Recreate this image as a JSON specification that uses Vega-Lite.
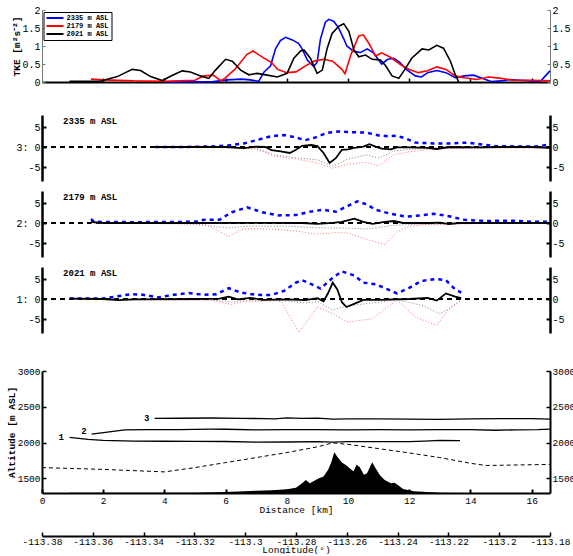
{
  "$schema": "https://vega.github.io/schema/vega-lite/v6.json",
  "background": "white",
  "padding": {"left": 5, "top": 5, "right": 0, "bottom": 0},
  "bounds": "flush",
  "spacing": 10,
  "config": {
    "view": {"stroke": null},
    "font": "Liberation Mono",
    "text": {"font": "Liberation Mono"},
    "axis": {"labelFont": "Liberation Mono", "titleFont": "Liberation Mono", "labelFontSize": 10, "labelColor": "black", "titleColor": "black", "domainColor": "black", "tickColor": "black", "grid": false, "labelFlush": false, "labelOverlap": false, "labelBound": false}
  },
  "datasets": {
    "tke": [
      {"h":"2335 m ASL","km":4.0,"v":0},{"h":"2335 m ASL","km":4.6,"v":0},{"h":"2335 m ASL","km":5.6,"v":0.01},{"h":"2335 m ASL","km":6.05,"v":0.06},{"h":"2335 m ASL","km":6.5,"v":0.08},{"h":"2335 m ASL","km":6.8,"v":0.06},{"h":"2335 m ASL","km":7.08,"v":0.02},{"h":"2335 m ASL","km":7.25,"v":0.27},{"h":"2335 m ASL","km":7.47,"v":0.45},{"h":"2335 m ASL","km":7.63,"v":0.92},{"h":"2335 m ASL","km":7.79,"v":1.15},{"h":"2335 m ASL","km":7.96,"v":1.24},{"h":"2335 m ASL","km":8.18,"v":1.17},{"h":"2335 m ASL","km":8.39,"v":1.07},{"h":"2335 m ASL","km":8.5,"v":0.92},{"h":"2335 m ASL","km":8.67,"v":0.61},{"h":"2335 m ASL","km":8.88,"v":0.43},{"h":"2335 m ASL","km":8.99,"v":0.55},{"h":"2335 m ASL","km":9.1,"v":1.2},{"h":"2335 m ASL","km":9.26,"v":1.66},{"h":"2335 m ASL","km":9.37,"v":1.74},{"h":"2335 m ASL","km":9.54,"v":1.68},{"h":"2335 m ASL","km":9.7,"v":1.49},{"h":"2335 m ASL","km":9.86,"v":1.2},{"h":"2335 m ASL","km":9.96,"v":1.0},{"h":"2335 m ASL","km":10.19,"v":0.85},{"h":"2335 m ASL","km":10.41,"v":0.82},{"h":"2335 m ASL","km":10.63,"v":0.92},{"h":"2335 m ASL","km":10.84,"v":0.8},{"h":"2335 m ASL","km":11.1,"v":0.5},{"h":"2335 m ASL","km":11.3,"v":0.63},{"h":"2335 m ASL","km":11.5,"v":0.66},{"h":"2335 m ASL","km":11.7,"v":0.54},{"h":"2335 m ASL","km":11.9,"v":0.35},{"h":"2335 m ASL","km":12.2,"v":0.17},{"h":"2335 m ASL","km":12.4,"v":0.14},{"h":"2335 m ASL","km":12.6,"v":0.26},{"h":"2335 m ASL","km":12.9,"v":0.32},{"h":"2335 m ASL","km":13.2,"v":0.26},{"h":"2335 m ASL","km":13.5,"v":0.12},{"h":"2335 m ASL","km":13.8,"v":0.17},{"h":"2335 m ASL","km":14.1,"v":0.19},{"h":"2335 m ASL","km":14.4,"v":0.1},{"h":"2335 m ASL","km":14.7,"v":0.01},{"h":"2335 m ASL","km":15.0,"v":0.03},{"h":"2335 m ASL","km":15.3,"v":0.07},{"h":"2335 m ASL","km":15.6,"v":0.05},{"h":"2335 m ASL","km":16.0,"v":0.03},{"h":"2335 m ASL","km":16.3,"v":0.03},{"h":"2335 m ASL","km":16.45,"v":0.17},{"h":"2335 m ASL","km":16.6,"v":0.31},
      {"h":"2179 m ASL","km":1.6,"v":0.08},{"h":"2179 m ASL","km":2.0,"v":0.06},{"h":"2179 m ASL","km":3.0,"v":0.03},{"h":"2179 m ASL","km":4.0,"v":0.02},{"h":"2179 m ASL","km":5.0,"v":0.05},{"h":"2179 m ASL","km":5.3,"v":0.17},{"h":"2179 m ASL","km":5.6,"v":0.19},{"h":"2179 m ASL","km":5.85,"v":0.03},{"h":"2179 m ASL","km":6.0,"v":0.12},{"h":"2179 m ASL","km":6.3,"v":0.35},{"h":"2179 m ASL","km":6.7,"v":0.77},{"h":"2179 m ASL","km":6.9,"v":0.86},{"h":"2179 m ASL","km":7.2,"v":0.69},{"h":"2179 m ASL","km":7.5,"v":0.54},{"h":"2179 m ASL","km":7.7,"v":0.35},{"h":"2179 m ASL","km":8.0,"v":0.26},{"h":"2179 m ASL","km":8.3,"v":0.28},{"h":"2179 m ASL","km":8.6,"v":0.44},{"h":"2179 m ASL","km":8.9,"v":0.58},{"h":"2179 m ASL","km":9.2,"v":0.63},{"h":"2179 m ASL","km":9.5,"v":0.58},{"h":"2179 m ASL","km":9.8,"v":0.35},{"h":"2179 m ASL","km":9.9,"v":0.23},{"h":"2179 m ASL","km":10.1,"v":0.77},{"h":"2179 m ASL","km":10.35,"v":1.28},{"h":"2179 m ASL","km":10.5,"v":1.31},{"h":"2179 m ASL","km":10.7,"v":1.05},{"h":"2179 m ASL","km":10.9,"v":0.72},{"h":"2179 m ASL","km":11.1,"v":0.81},{"h":"2179 m ASL","km":11.4,"v":0.68},{"h":"2179 m ASL","km":11.7,"v":0.49},{"h":"2179 m ASL","km":12.0,"v":0.35},{"h":"2179 m ASL","km":12.3,"v":0.26},{"h":"2179 m ASL","km":12.6,"v":0.31},{"h":"2179 m ASL","km":12.9,"v":0.42},{"h":"2179 m ASL","km":13.2,"v":0.35},{"h":"2179 m ASL","km":13.5,"v":0.17},{"h":"2179 m ASL","km":13.8,"v":0.12},{"h":"2179 m ASL","km":14.2,"v":0.07},{"h":"2179 m ASL","km":14.6,"v":0.14},{"h":"2179 m ASL","km":15.0,"v":0.1},{"h":"2179 m ASL","km":15.4,"v":0.05},{"h":"2179 m ASL","km":16.0,"v":0.05},{"h":"2179 m ASL","km":16.6,"v":0.03},
      {"h":"2021 m ASL","km":0.9,"v":0.02},{"h":"2021 m ASL","km":1.9,"v":0.02},{"h":"2021 m ASL","km":2.46,"v":0.15},{"h":"2021 m ASL","km":2.95,"v":0.35},{"h":"2021 m ASL","km":3.22,"v":0.32},{"h":"2021 m ASL","km":3.55,"v":0.15},{"h":"2021 m ASL","km":3.93,"v":0.04},{"h":"2021 m ASL","km":4.25,"v":0.18},{"h":"2021 m ASL","km":4.58,"v":0.31},{"h":"2021 m ASL","km":4.85,"v":0.28},{"h":"2021 m ASL","km":5.18,"v":0.17},{"h":"2021 m ASL","km":5.45,"v":0.1},{"h":"2021 m ASL","km":5.67,"v":0.33},{"h":"2021 m ASL","km":6.0,"v":0.63},{"h":"2021 m ASL","km":6.22,"v":0.58},{"h":"2021 m ASL","km":6.49,"v":0.33},{"h":"2021 m ASL","km":6.76,"v":0.2},{"h":"2021 m ASL","km":7.03,"v":0.24},{"h":"2021 m ASL","km":7.36,"v":0.19},{"h":"2021 m ASL","km":7.69,"v":0.14},{"h":"2021 m ASL","km":8.01,"v":0.24},{"h":"2021 m ASL","km":8.23,"v":0.66},{"h":"2021 m ASL","km":8.45,"v":0.86},{"h":"2021 m ASL","km":8.56,"v":0.89},{"h":"2021 m ASL","km":8.77,"v":0.66},{"h":"2021 m ASL","km":8.99,"v":0.24},{"h":"2021 m ASL","km":9.16,"v":0.33},{"h":"2021 m ASL","km":9.32,"v":0.94},{"h":"2021 m ASL","km":9.48,"v":1.35},{"h":"2021 m ASL","km":9.7,"v":1.55},{"h":"2021 m ASL","km":9.86,"v":1.62},{"h":"2021 m ASL","km":10.03,"v":1.4},{"h":"2021 m ASL","km":10.19,"v":0.9},{"h":"2021 m ASL","km":10.35,"v":0.7},{"h":"2021 m ASL","km":10.57,"v":0.75},{"h":"2021 m ASL","km":10.79,"v":0.63},{"h":"2021 m ASL","km":11.06,"v":0.61},{"h":"2021 m ASL","km":11.23,"v":0.45},{"h":"2021 m ASL","km":11.44,"v":0.17},{"h":"2021 m ASL","km":11.66,"v":0.1},{"h":"2021 m ASL","km":11.88,"v":0.38},{"h":"2021 m ASL","km":12.08,"v":0.66},{"h":"2021 m ASL","km":12.42,"v":0.92},{"h":"2021 m ASL","km":12.64,"v":0.89},{"h":"2021 m ASL","km":12.9,"v":1.02},{"h":"2021 m ASL","km":13.12,"v":0.94},{"h":"2021 m ASL","km":13.35,"v":0.57},{"h":"2021 m ASL","km":13.51,"v":0.19},{"h":"2021 m ASL","km":13.62,"v":0.0}
    ],
    "dev": [
      {"p":3,"s":"A","km":3.7,"v":0},{"p":3,"s":"A","km":4.5,"v":0},{"p":3,"s":"A","km":5.0,"v":0.05},{"p":3,"s":"A","km":5.6,"v":0.15},{"p":3,"s":"A","km":6.1,"v":0.4},{"p":3,"s":"A","km":6.6,"v":0.9},{"p":3,"s":"A","km":7.0,"v":1.7},{"p":3,"s":"A","km":7.5,"v":2.7},{"p":3,"s":"A","km":7.9,"v":3.0},{"p":3,"s":"A","km":8.3,"v":2.4},{"p":3,"s":"A","km":8.6,"v":1.7},{"p":3,"s":"A","km":8.9,"v":2.3},{"p":3,"s":"A","km":9.3,"v":3.5},{"p":3,"s":"A","km":9.7,"v":3.9},{"p":3,"s":"A","km":10.1,"v":3.7},{"p":3,"s":"A","km":10.6,"v":3.6},{"p":3,"s":"A","km":11.0,"v":2.9},{"p":3,"s":"A","km":11.3,"v":2.7},{"p":3,"s":"A","km":11.6,"v":2.8},{"p":3,"s":"A","km":11.9,"v":2.1},{"p":3,"s":"A","km":12.2,"v":1.1},{"p":3,"s":"A","km":12.8,"v":0.9},{"p":3,"s":"A","km":13.4,"v":0.9},{"p":3,"s":"A","km":13.9,"v":1.1},{"p":3,"s":"A","km":14.3,"v":0.7},{"p":3,"s":"A","km":14.8,"v":0.2},{"p":3,"s":"A","km":15.5,"v":0.15},{"p":3,"s":"A","km":16.2,"v":0.15},{"p":3,"s":"A","km":16.6,"v":0.7},
      {"p":3,"s":"B","km":3.7,"v":0},{"p":3,"s":"B","km":5.0,"v":0},{"p":3,"s":"B","km":6.0,"v":0},{"p":3,"s":"B","km":6.4,"v":-0.2},{"p":3,"s":"B","km":6.6,"v":-0.3},{"p":3,"s":"B","km":7.0,"v":0.1},{"p":3,"s":"B","km":7.3,"v":0},{"p":3,"s":"B","km":7.5,"v":-0.8},{"p":3,"s":"B","km":7.8,"v":-1.1},{"p":3,"s":"B","km":8.1,"v":-1.5},{"p":3,"s":"B","km":8.3,"v":-0.7},{"p":3,"s":"B","km":8.5,"v":0.3},{"p":3,"s":"B","km":8.8,"v":0.5},{"p":3,"s":"B","km":9.0,"v":0.2},{"p":3,"s":"B","km":9.2,"v":-1.5},{"p":3,"s":"B","km":9.4,"v":-4.0},{"p":3,"s":"B","km":9.6,"v":-2.8},{"p":3,"s":"B","km":9.8,"v":-0.7},{"p":3,"s":"B","km":10.0,"v":-0.6},{"p":3,"s":"B","km":10.2,"v":-0.2},{"p":3,"s":"B","km":10.5,"v":0.1},{"p":3,"s":"B","km":10.7,"v":0.7},{"p":3,"s":"B","km":10.9,"v":0.1},{"p":3,"s":"B","km":11.1,"v":-0.4},{"p":3,"s":"B","km":11.4,"v":-0.6},{"p":3,"s":"B","km":11.6,"v":-0.1},{"p":3,"s":"B","km":12.0,"v":-0.1},{"p":3,"s":"B","km":12.6,"v":-0.2},{"p":3,"s":"B","km":12.9,"v":-0.5},{"p":3,"s":"B","km":13.3,"v":0},{"p":3,"s":"B","km":14.3,"v":-0.1},{"p":3,"s":"B","km":15.0,"v":0},{"p":3,"s":"B","km":16.0,"v":0},{"p":3,"s":"B","km":16.6,"v":-0.2},
      {"p":3,"s":"C","km":3.7,"v":0},{"p":3,"s":"C","km":6.0,"v":-0.1},{"p":3,"s":"C","km":6.5,"v":-0.2},{"p":3,"s":"C","km":7.0,"v":-0.5},{"p":3,"s":"C","km":7.6,"v":-2.3},{"p":3,"s":"C","km":8.3,"v":-3.0},{"p":3,"s":"C","km":9.0,"v":-4.0},{"p":3,"s":"C","km":9.5,"v":-5.3},{"p":3,"s":"C","km":10.0,"v":-4.3},{"p":3,"s":"C","km":10.6,"v":-3.8},{"p":3,"s":"C","km":11.0,"v":-4.7},{"p":3,"s":"C","km":11.5,"v":-1.9},{"p":3,"s":"C","km":12.0,"v":-1.2},{"p":3,"s":"C","km":12.5,"v":-0.8},{"p":3,"s":"C","km":13.0,"v":-0.4},{"p":3,"s":"C","km":14.0,"v":-0.3},{"p":3,"s":"C","km":15.0,"v":-0.2},{"p":3,"s":"C","km":16.6,"v":-0.3},
      {"p":3,"s":"D","km":3.7,"v":0},{"p":3,"s":"D","km":6.5,"v":-0.1},{"p":3,"s":"D","km":7.0,"v":-0.3},{"p":3,"s":"D","km":7.6,"v":-2.0},{"p":3,"s":"D","km":8.3,"v":-2.7},{"p":3,"s":"D","km":9.0,"v":-3.2},{"p":3,"s":"D","km":9.5,"v":-4.8},{"p":3,"s":"D","km":10.0,"v":-3.0},{"p":3,"s":"D","km":10.6,"v":-2.0},{"p":3,"s":"D","km":11.0,"v":-2.8},{"p":3,"s":"D","km":11.5,"v":-1.0},{"p":3,"s":"D","km":12.0,"v":-0.6},{"p":3,"s":"D","km":13.0,"v":-0.3},{"p":3,"s":"D","km":16.6,"v":-0.1},
      {"p":2,"s":"A","km":1.6,"v":1.0},{"p":2,"s":"A","km":1.7,"v":0.3},{"p":2,"s":"A","km":3.0,"v":0.2},{"p":2,"s":"A","km":5.0,"v":0.3},{"p":2,"s":"A","km":5.3,"v":0.8},{"p":2,"s":"A","km":5.8,"v":0.8},{"p":2,"s":"A","km":6.2,"v":2.7},{"p":2,"s":"A","km":6.7,"v":3.9},{"p":2,"s":"A","km":7.2,"v":2.7},{"p":2,"s":"A","km":7.7,"v":1.9},{"p":2,"s":"A","km":8.3,"v":2.0},{"p":2,"s":"A","km":8.8,"v":2.9},{"p":2,"s":"A","km":9.2,"v":3.3},{"p":2,"s":"A","km":9.6,"v":2.8},{"p":2,"s":"A","km":10.0,"v":4.3},{"p":2,"s":"A","km":10.3,"v":5.4},{"p":2,"s":"A","km":10.6,"v":4.7},{"p":2,"s":"A","km":10.9,"v":3.3},{"p":2,"s":"A","km":11.4,"v":2.3},{"p":2,"s":"A","km":11.9,"v":1.6},{"p":2,"s":"A","km":12.4,"v":1.9},{"p":2,"s":"A","km":12.8,"v":2.3},{"p":2,"s":"A","km":13.3,"v":1.7},{"p":2,"s":"A","km":13.8,"v":0.8},{"p":2,"s":"A","km":14.5,"v":0.5},{"p":2,"s":"A","km":15.3,"v":0.6},{"p":2,"s":"A","km":16.0,"v":0.3},{"p":2,"s":"A","km":16.6,"v":0.3},
      {"p":2,"s":"B","km":1.6,"v":0.3},{"p":2,"s":"B","km":2.0,"v":0},{"p":2,"s":"B","km":5.0,"v":0},{"p":2,"s":"B","km":7.0,"v":0.05},{"p":2,"s":"B","km":8.5,"v":0},{"p":2,"s":"B","km":9.0,"v":-0.2},{"p":2,"s":"B","km":9.5,"v":0.05},{"p":2,"s":"B","km":9.8,"v":0.3},{"p":2,"s":"B","km":10.2,"v":1.1},{"p":2,"s":"B","km":10.5,"v":0.3},{"p":2,"s":"B","km":10.8,"v":-0.2},{"p":2,"s":"B","km":11.2,"v":0.3},{"p":2,"s":"B","km":11.5,"v":0.5},{"p":2,"s":"B","km":11.8,"v":0},{"p":2,"s":"B","km":12.6,"v":0},{"p":2,"s":"B","km":13.0,"v":0.1},{"p":2,"s":"B","km":13.3,"v":-0.3},{"p":2,"s":"B","km":13.6,"v":0},{"p":2,"s":"B","km":16.6,"v":0},
      {"p":2,"s":"C","km":1.6,"v":0},{"p":2,"s":"C","km":4.5,"v":-0.2},{"p":2,"s":"C","km":5.4,"v":-0.5},{"p":2,"s":"C","km":6.1,"v":-3.4},{"p":2,"s":"C","km":6.6,"v":-1.4},{"p":2,"s":"C","km":7.5,"v":-1.5},{"p":2,"s":"C","km":8.3,"v":-2.0},{"p":2,"s":"C","km":9.0,"v":-2.8},{"p":2,"s":"C","km":9.6,"v":-2.4},{"p":2,"s":"C","km":10.0,"v":-2.5},{"p":2,"s":"C","km":10.5,"v":-3.8},{"p":2,"s":"C","km":11.2,"v":-5.4},{"p":2,"s":"C","km":11.6,"v":-2.2},{"p":2,"s":"C","km":12.0,"v":-0.8},{"p":2,"s":"C","km":12.5,"v":-0.4},{"p":2,"s":"C","km":13.5,"v":-0.3},{"p":2,"s":"C","km":14.5,"v":-0.1},{"p":2,"s":"C","km":16.6,"v":0},
      {"p":2,"s":"D","km":1.6,"v":0},{"p":2,"s":"D","km":5.0,"v":-0.2},{"p":2,"s":"D","km":5.5,"v":-0.8},{"p":2,"s":"D","km":6.1,"v":-1.2},{"p":2,"s":"D","km":6.8,"v":-0.8},{"p":2,"s":"D","km":8.0,"v":-0.8},{"p":2,"s":"D","km":9.0,"v":-1.2},{"p":2,"s":"D","km":10.0,"v":-1.3},{"p":2,"s":"D","km":10.6,"v":-1.5},{"p":2,"s":"D","km":11.5,"v":-0.6},{"p":2,"s":"D","km":12.0,"v":-0.4},{"p":2,"s":"D","km":13.0,"v":-0.2},{"p":2,"s":"D","km":14.0,"v":-0.1},{"p":2,"s":"D","km":16.6,"v":0},
      {"p":1,"s":"A","km":0.9,"v":0.1},{"p":1,"s":"A","km":2.0,"v":0.1},{"p":1,"s":"A","km":2.4,"v":0.6},{"p":1,"s":"A","km":2.9,"v":1.2},{"p":1,"s":"A","km":3.3,"v":1.05},{"p":1,"s":"A","km":3.8,"v":0.4},{"p":1,"s":"A","km":4.3,"v":1.05},{"p":1,"s":"A","km":4.8,"v":1.5},{"p":1,"s":"A","km":5.3,"v":1.05},{"p":1,"s":"A","km":5.7,"v":1.2},{"p":1,"s":"A","km":6.1,"v":2.7},{"p":1,"s":"A","km":6.5,"v":1.6},{"p":1,"s":"A","km":7.0,"v":1.05},{"p":1,"s":"A","km":7.5,"v":1.0},{"p":1,"s":"A","km":7.9,"v":2.0},{"p":1,"s":"A","km":8.3,"v":4.1},{"p":1,"s":"A","km":8.5,"v":4.7},{"p":1,"s":"A","km":8.8,"v":3.7},{"p":1,"s":"A","km":9.1,"v":2.6},{"p":1,"s":"A","km":9.5,"v":5.3},{"p":1,"s":"A","km":9.8,"v":6.9},{"p":1,"s":"A","km":10.2,"v":5.9},{"p":1,"s":"A","km":10.5,"v":4.1},{"p":1,"s":"A","km":10.9,"v":3.7},{"p":1,"s":"A","km":11.3,"v":2.4},{"p":1,"s":"A","km":11.6,"v":1.4},{"p":1,"s":"A","km":12.0,"v":2.8},{"p":1,"s":"A","km":12.4,"v":4.5},{"p":1,"s":"A","km":12.9,"v":5.0},{"p":1,"s":"A","km":13.2,"v":4.7},{"p":1,"s":"A","km":13.5,"v":2.4},{"p":1,"s":"A","km":13.7,"v":1.6},
      {"p":1,"s":"B","km":0.9,"v":0.1},{"p":1,"s":"B","km":2.0,"v":0},{"p":1,"s":"B","km":2.5,"v":-0.3},{"p":1,"s":"B","km":3.0,"v":-0.1},{"p":1,"s":"B","km":5.0,"v":0},{"p":1,"s":"B","km":5.8,"v":0.1},{"p":1,"s":"B","km":6.1,"v":0.6},{"p":1,"s":"B","km":6.4,"v":-0.1},{"p":1,"s":"B","km":6.8,"v":0.3},{"p":1,"s":"B","km":7.2,"v":-0.2},{"p":1,"s":"B","km":8.0,"v":-0.1},{"p":1,"s":"B","km":8.6,"v":-0.3},{"p":1,"s":"B","km":9.0,"v":0.2},{"p":1,"s":"B","km":9.2,"v":-0.6},{"p":1,"s":"B","km":9.35,"v":1.5},{"p":1,"s":"B","km":9.5,"v":4.1},{"p":1,"s":"B","km":9.65,"v":2.4},{"p":1,"s":"B","km":9.8,"v":-0.8},{"p":1,"s":"B","km":9.95,"v":-2.0},{"p":1,"s":"B","km":10.2,"v":-1.2},{"p":1,"s":"B","km":10.5,"v":-0.2},{"p":1,"s":"B","km":11.0,"v":-0.2},{"p":1,"s":"B","km":12.0,"v":0},{"p":1,"s":"B","km":12.6,"v":0.3},{"p":1,"s":"B","km":12.9,"v":-0.4},{"p":1,"s":"B","km":13.2,"v":1.4},{"p":1,"s":"B","km":13.5,"v":0.6},{"p":1,"s":"B","km":13.7,"v":0.2},
      {"p":1,"s":"C","km":0.9,"v":0},{"p":1,"s":"C","km":2.5,"v":-0.2},{"p":1,"s":"C","km":5.5,"v":-0.3},{"p":1,"s":"C","km":6.2,"v":-1.4},{"p":1,"s":"C","km":6.6,"v":-0.6},{"p":1,"s":"C","km":7.7,"v":-0.5},{"p":1,"s":"C","km":7.8,"v":-0.6},{"p":1,"s":"C","km":8.4,"v":-8.3},{"p":1,"s":"C","km":9.0,"v":-2.0},{"p":1,"s":"C","km":9.5,"v":-3.7},{"p":1,"s":"C","km":10.0,"v":-5.8},{"p":1,"s":"C","km":10.8,"v":-4.9},{"p":1,"s":"C","km":11.6,"v":-0.2},{"p":1,"s":"C","km":12.2,"v":-4.5},{"p":1,"s":"C","km":12.9,"v":-6.6},{"p":1,"s":"C","km":13.3,"v":-2.4},{"p":1,"s":"C","km":13.7,"v":-0.3},
      {"p":1,"s":"D","km":0.9,"v":0},{"p":1,"s":"D","km":5.5,"v":-0.2},{"p":1,"s":"D","km":6.2,"v":-0.8},{"p":1,"s":"D","km":6.6,"v":-0.3},{"p":1,"s":"D","km":7.5,"v":-0.3},{"p":1,"s":"D","km":8.0,"v":-0.5},{"p":1,"s":"D","km":8.6,"v":-1.0},{"p":1,"s":"D","km":9.0,"v":-0.6},{"p":1,"s":"D","km":9.5,"v":-2.7},{"p":1,"s":"D","km":10.0,"v":-1.7},{"p":1,"s":"D","km":11.0,"v":-0.8},{"p":1,"s":"D","km":11.6,"v":-0.1},{"p":1,"s":"D","km":12.5,"v":-1.8},{"p":1,"s":"D","km":13.0,"v":-3.7},{"p":1,"s":"D","km":13.4,"v":-2.0},{"p":1,"s":"D","km":13.7,"v":-0.3}
    ],
    "terrain": [
      {"km":0.9,"alt":1297},{"km":4.0,"alt":1297},{"km":5.0,"alt":1300},{"km":6.0,"alt":1310},{"km":7.0,"alt":1325},{"km":7.5,"alt":1335},{"km":8.0,"alt":1348},{"km":8.3,"alt":1370},{"km":8.5,"alt":1430},{"km":8.62,"alt":1475},{"km":8.75,"alt":1430},{"km":8.9,"alt":1465},{"km":9.05,"alt":1500},{"km":9.2,"alt":1525},{"km":9.35,"alt":1620},{"km":9.45,"alt":1720},{"km":9.55,"alt":1865},{"km":9.65,"alt":1800},{"km":9.8,"alt":1720},{"km":9.95,"alt":1680},{"km":10.1,"alt":1625},{"km":10.18,"alt":1600},{"km":10.28,"alt":1690},{"km":10.38,"alt":1660},{"km":10.52,"alt":1550},{"km":10.62,"alt":1570},{"km":10.79,"alt":1725},{"km":10.9,"alt":1640},{"km":11.05,"alt":1540},{"km":11.2,"alt":1475},{"km":11.4,"alt":1430},{"km":11.52,"alt":1440},{"km":11.65,"alt":1400},{"km":11.8,"alt":1350},{"km":12.15,"alt":1320},{"km":13.0,"alt":1300},{"km":13.66,"alt":1296}
    ],
    "bl": [
      {"km":0,"alt":1650},{"km":2,"alt":1625},{"km":4,"alt":1590},{"km":5,"alt":1650},{"km":6,"alt":1720},{"km":7,"alt":1790},{"km":8,"alt":1860},{"km":9,"alt":1940},{"km":9.5,"alt":1995},{"km":10,"alt":1975},{"km":11,"alt":1915},{"km":12,"alt":1855},{"km":13,"alt":1790},{"km":14,"alt":1710},{"km":14.5,"alt":1680},{"km":15,"alt":1683},{"km":16,"alt":1690},{"km":16.6,"alt":1695}
    ],
    "alt": [
      {"line":"1","km":0.9,"alt":2072},{"line":"1","km":1.5,"alt":2045},{"line":"1","km":2.0,"alt":2030},{"line":"1","km":3.0,"alt":2020},{"line":"1","km":4.0,"alt":2018},{"line":"1","km":5.0,"alt":2017},{"line":"1","km":6.0,"alt":2015},{"line":"1","km":7.0,"alt":2007},{"line":"1","km":8.0,"alt":2008},{"line":"1","km":9.0,"alt":2012},{"line":"1","km":9.5,"alt":2005},{"line":"1","km":10.0,"alt":2012},{"line":"1","km":11.0,"alt":2013},{"line":"1","km":12.0,"alt":2012},{"line":"1","km":12.5,"alt":2020},{"line":"1","km":13.0,"alt":2030},{"line":"1","km":13.66,"alt":2027},
      {"line":"2","km":1.62,"alt":2118},{"line":"2","km":2.2,"alt":2150},{"line":"2","km":2.7,"alt":2178},{"line":"2","km":3.5,"alt":2180},{"line":"2","km":4.5,"alt":2182},{"line":"2","km":5.5,"alt":2187},{"line":"2","km":6.0,"alt":2186},{"line":"2","km":7.0,"alt":2176},{"line":"2","km":8.0,"alt":2180},{"line":"2","km":9.0,"alt":2182},{"line":"2","km":10.0,"alt":2178},{"line":"2","km":11.0,"alt":2180},{"line":"2","km":12.0,"alt":2176},{"line":"2","km":13.0,"alt":2181},{"line":"2","km":14.0,"alt":2180},{"line":"2","km":14.8,"alt":2172},{"line":"2","km":15.5,"alt":2178},{"line":"2","km":16.2,"alt":2180},{"line":"2","km":16.6,"alt":2187},
      {"line":"3","km":3.68,"alt":2337},{"line":"3","km":4.5,"alt":2340},{"line":"3","km":5.5,"alt":2343},{"line":"3","km":6.5,"alt":2338},{"line":"3","km":7.3,"alt":2335},{"line":"3","km":7.6,"alt":2330},{"line":"3","km":8.0,"alt":2345},{"line":"3","km":8.5,"alt":2338},{"line":"3","km":9.0,"alt":2340},{"line":"3","km":9.5,"alt":2328},{"line":"3","km":10.0,"alt":2330},{"line":"3","km":11.0,"alt":2332},{"line":"3","km":12.0,"alt":2328},{"line":"3","km":13.0,"alt":2325},{"line":"3","km":14.0,"alt":2330},{"line":"3","km":15.0,"alt":2335},{"line":"3","km":16.0,"alt":2335},{"line":"3","km":16.6,"alt":2328}
    ],
    "altlab": [
      {"line":"1","km":0.63,"alt":2071},{"line":"2","km":1.37,"alt":2165},{"line":"3","km":3.42,"alt":2350}
    ],
    "lon": [{"lon":-113.38},{"lon":-113.18}]
  },
  "vconcat": [
    {
      "width": 508, "height": 72,
      "data": {"name": "tke"},
      "encoding": {"x": {"field": "km", "type": "quantitative", "scale": {"domain": [0, 16.6], "nice": false, "zero": false}, "axis": {"values": [2,4,6,8,10,12,14,16], "labels": false, "title": null, "domainWidth": 2, "tickWidth": 1.5, "tickSize": -4}}},
      "layer": [
        {"mark": {"type": "line", "strokeWidth": 1.6},
         "encoding": {
           "y": {"field": "v", "type": "quantitative", "scale": {"domain": [0, 2], "nice": false, "zero": false}, "axis": {"orient": "left", "values": [0,0.5,1,1.5,2], "format": "~g", "title": "TKE [m²s⁻²]", "titleFontWeight": "bold", "titleFontSize": 9.5, "titleX": -21, "domainColor": "#777", "tickColor": "#777", "tickSize": -3, "labelPadding": 5}},
           "color": {"field": "h", "type": "nominal", "scale": {"domain": ["2335 m ASL", "2179 m ASL", "2021 m ASL"], "range": ["#0000ff", "#ff0000", "#000000"]},
             "legend": {"orient": "none", "legendX": 1.5, "legendY": 2, "title": null, "strokeColor": "black", "fillColor": "white", "padding": 2, "labelFont": "Liberation Mono", "labelFontSize": 7, "labelFontWeight": "bold", "labelColor": "black", "symbolType": "stroke", "symbolStrokeWidth": 2, "symbolSize": 289, "clipHeight": 8, "rowPadding": 0, "labelOffset": 2}}
         }},
        {"mark": {"type": "line", "opacity": 0},
         "encoding": {"detail": {"field": "h"}, "y": {"field": "v", "type": "quantitative", "axis": {"orient": "right", "values": [0,0.5,1,1.5,2], "format": "~g", "title": null, "domainColor": "#777", "tickColor": "#777", "tickSize": -3, "labelPadding": 5}}}}
      ],
      "resolve": {"axis": {"y": "independent"}}
    },
    {"width": 508, "height": 13, "data": {"values": [{"k": 0}]}, "mark": {"type": "point", "opacity": 0}},
    {
      "width": 508, "height": 66,
      "layer": [
        {"data": {"values": [{"t": "2335 m ASL"}]}, "mark": {"type": "rule", "strokeDash": [5, 4], "strokeWidth": 2, "color": "black"}, "encoding": {"x": {"datum": 0, "type": "quantitative", "scale": {"domain": [0, 16.6], "nice": false, "zero": false}, "axis": null}, "x2": {"datum": 16.6}, "y": {"datum": 0, "type": "quantitative", "scale": {"domain": [-8.5, 8], "nice": false, "zero": false}, "axis": null}}},
        {"data": {"name": "dev"}, "transform": [{"filter": "datum.p==3 && datum.s=='D'"}], "mark": {"type": "line", "color": "#808080", "strokeWidth": 1, "strokeDash": [1, 2]}, "encoding": {"x": {"field": "km", "type": "quantitative", "axis": null}, "y": {"field": "v", "type": "quantitative", "axis": {"orient": "left", "values": [-5,0,5], "labelExpr": "datum.value==0 ? '3: 0' : (datum.value>0 ? '5' : '-5')", "title": null, "domainWidth": 2.5, "tickWidth": 2, "tickSize": -4, "labelPadding": 6}}}},
        {"data": {"name": "dev"}, "transform": [{"filter": "datum.p==3 && datum.s=='C'"}], "mark": {"type": "line", "color": "#ff7070", "strokeWidth": 1, "strokeDash": [1, 2]}, "encoding": {"x": {"field": "km", "type": "quantitative", "axis": null}, "y": {"field": "v", "type": "quantitative", "axis": {"orient": "right", "values": [-5,0,5], "labelExpr": "datum.value==0 ? '0' : (datum.value>0 ? '5' : '-5')", "title": null, "domainWidth": 2.5, "tickWidth": 2, "tickSize": -4, "labelPadding": 6}}}},
        {"data": {"name": "dev"}, "transform": [{"filter": "datum.p==3 && datum.s=='A'"}], "mark": {"type": "line", "color": "#0000ff", "strokeWidth": 2.5, "strokeDash": [4, 4]}, "encoding": {"x": {"field": "km", "type": "quantitative", "axis": null}, "y": {"field": "v", "type": "quantitative", "axis": null}}},
        {"data": {"name": "dev"}, "transform": [{"filter": "datum.p==3 && datum.s=='B'"}], "mark": {"type": "line", "color": "black", "strokeWidth": 1.8}, "encoding": {"x": {"field": "km", "type": "quantitative", "axis": null}, "y": {"field": "v", "type": "quantitative", "axis": null}}},
        {"data": {"values": [{"t": "2335 m ASL"}]}, "mark": {"type": "text", "align": "left", "baseline": "middle", "fontSize": 9, "fontWeight": "bold", "font": "Liberation Mono", "color": "black"}, "encoding": {"x": {"datum": 0.69, "type": "quantitative", "axis": null}, "y": {"datum": 6.5, "type": "quantitative", "axis": null}, "text": {"field": "t", "type": "nominal"}}}
      ],
      "resolve": {"axis": {"y": "independent"}}
    },
    {
      "width": 508, "height": 66,
      "layer": [
        {"data": {"values": [{"t": "2179 m ASL"}]}, "mark": {"type": "rule", "strokeDash": [5, 4], "strokeWidth": 2, "color": "black"}, "encoding": {"x": {"datum": 0, "type": "quantitative", "scale": {"domain": [0, 16.6], "nice": false, "zero": false}, "axis": null}, "x2": {"datum": 16.6}, "y": {"datum": 0, "type": "quantitative", "scale": {"domain": [-8.5, 8], "nice": false, "zero": false}, "axis": null}}},
        {"data": {"name": "dev"}, "transform": [{"filter": "datum.p==2 && datum.s=='D'"}], "mark": {"type": "line", "color": "#808080", "strokeWidth": 1, "strokeDash": [1, 2]}, "encoding": {"x": {"field": "km", "type": "quantitative", "axis": null}, "y": {"field": "v", "type": "quantitative", "axis": {"orient": "left", "values": [-5,0,5], "labelExpr": "datum.value==0 ? '2: 0' : (datum.value>0 ? '5' : '-5')", "title": null, "domainWidth": 2.5, "tickWidth": 2, "tickSize": -4, "labelPadding": 6}}}},
        {"data": {"name": "dev"}, "transform": [{"filter": "datum.p==2 && datum.s=='C'"}], "mark": {"type": "line", "color": "#ff7070", "strokeWidth": 1, "strokeDash": [1, 2]}, "encoding": {"x": {"field": "km", "type": "quantitative", "axis": null}, "y": {"field": "v", "type": "quantitative", "axis": {"orient": "right", "values": [-5,0,5], "labelExpr": "datum.value==0 ? '0' : (datum.value>0 ? '5' : '-5')", "title": null, "domainWidth": 2.5, "tickWidth": 2, "tickSize": -4, "labelPadding": 6}}}},
        {"data": {"name": "dev"}, "transform": [{"filter": "datum.p==2 && datum.s=='A'"}], "mark": {"type": "line", "color": "#0000ff", "strokeWidth": 2.5, "strokeDash": [4, 4]}, "encoding": {"x": {"field": "km", "type": "quantitative", "axis": null}, "y": {"field": "v", "type": "quantitative", "axis": null}}},
        {"data": {"name": "dev"}, "transform": [{"filter": "datum.p==2 && datum.s=='B'"}], "mark": {"type": "line", "color": "black", "strokeWidth": 1.8}, "encoding": {"x": {"field": "km", "type": "quantitative", "axis": null}, "y": {"field": "v", "type": "quantitative", "axis": null}}},
        {"data": {"values": [{"t": "2179 m ASL"}]}, "mark": {"type": "text", "align": "left", "baseline": "middle", "fontSize": 9, "fontWeight": "bold", "font": "Liberation Mono", "color": "black"}, "encoding": {"x": {"datum": 0.69, "type": "quantitative", "axis": null}, "y": {"datum": 6.6, "type": "quantitative", "axis": null}, "text": {"field": "t", "type": "nominal"}}}
      ],
      "resolve": {"axis": {"y": "independent"}}
    },
    {
      "width": 508, "height": 66,
      "layer": [
        {"data": {"values": [{"t": "2021 m ASL"}]}, "mark": {"type": "rule", "strokeDash": [5, 4], "strokeWidth": 2, "color": "black"}, "encoding": {"x": {"datum": 0, "type": "quantitative", "scale": {"domain": [0, 16.6], "nice": false, "zero": false}, "axis": null}, "x2": {"datum": 16.6}, "y": {"datum": 0, "type": "quantitative", "scale": {"domain": [-8.5, 8], "nice": false, "zero": false}, "axis": null}}},
        {"data": {"name": "dev"}, "transform": [{"filter": "datum.p==1 && datum.s=='D'"}], "mark": {"type": "line", "color": "#808080", "strokeWidth": 1, "strokeDash": [1, 2]}, "encoding": {"x": {"field": "km", "type": "quantitative", "axis": null}, "y": {"field": "v", "type": "quantitative", "axis": {"orient": "left", "values": [-5,0,5], "labelExpr": "datum.value==0 ? '1: 0' : (datum.value>0 ? '5' : '-5')", "title": null, "domainWidth": 2.5, "tickWidth": 2, "tickSize": -4, "labelPadding": 6}}}},
        {"data": {"name": "dev"}, "transform": [{"filter": "datum.p==1 && datum.s=='C'"}], "mark": {"type": "line", "color": "#ff7070", "strokeWidth": 1, "strokeDash": [1, 2]}, "encoding": {"x": {"field": "km", "type": "quantitative", "axis": null}, "y": {"field": "v", "type": "quantitative", "axis": {"orient": "right", "values": [-5,0,5], "labelExpr": "datum.value==0 ? '0' : (datum.value>0 ? '5' : '-5')", "title": null, "domainWidth": 2.5, "tickWidth": 2, "tickSize": -4, "labelPadding": 6}}}},
        {"data": {"name": "dev"}, "transform": [{"filter": "datum.p==1 && datum.s=='A'"}], "mark": {"type": "line", "color": "#0000ff", "strokeWidth": 2.5, "strokeDash": [4, 4]}, "encoding": {"x": {"field": "km", "type": "quantitative", "axis": null}, "y": {"field": "v", "type": "quantitative", "axis": null}}},
        {"data": {"name": "dev"}, "transform": [{"filter": "datum.p==1 && datum.s=='B'"}], "mark": {"type": "line", "color": "black", "strokeWidth": 1.8}, "encoding": {"x": {"field": "km", "type": "quantitative", "axis": null}, "y": {"field": "v", "type": "quantitative", "axis": null}}},
        {"data": {"values": [{"t": "2021 m ASL"}]}, "mark": {"type": "text", "align": "left", "baseline": "middle", "fontSize": 9, "fontWeight": "bold", "font": "Liberation Mono", "color": "black"}, "encoding": {"x": {"datum": 0.69, "type": "quantitative", "axis": null}, "y": {"datum": 6.6, "type": "quantitative", "axis": null}, "text": {"field": "t", "type": "nominal"}}}
      ],
      "resolve": {"axis": {"y": "independent"}}
    },
    {"width": 508, "height": 18, "data": {"values": [{"k": 0}]}, "mark": {"type": "point", "opacity": 0}},
    {
      "width": 508, "height": 122,
      "layer": [
        {"data": {"name": "terrain"}, "mark": {"type": "area", "color": "black"},
         "encoding": {
           "x": {"field": "km", "type": "quantitative", "scale": {"domain": [0, 16.6], "nice": false, "zero": false}, "axis": {"orient": "bottom", "values": [0,2,4,6,8,10,12,14,16], "title": "Distance [km]", "titleFontSize": 9.5, "titleFontWeight": "normal", "titlePadding": 0, "domainWidth": 2, "tickWidth": 2, "tickSize": -4, "labelPadding": 6, "labelFontSize": 9.5}},
           "y": {"field": "alt", "type": "quantitative", "scale": {"domain": [1295, 3000], "nice": false, "zero": false}, "axis": {"orient": "left", "values": [1500, 2000, 2500, 3000], "format": "d", "title": "Altitude [m ASL]", "titleFontWeight": "bold", "titleFontSize": 9.5, "titleX": -26, "domainWidth": 2, "tickWidth": 1.5, "tickSize": -4, "labelPadding": 6, "labelFontSize": 9.5}},
           "y2": {"datum": 1295}
         }},
        {"data": {"name": "bl"}, "mark": {"type": "line", "color": "black", "strokeWidth": 1, "strokeDash": [4, 3]},
         "encoding": {
           "x": {"field": "km", "type": "quantitative", "scale": {"domain": [0, 16.6], "nice": false, "zero": false}, "axis": null},
           "y": {"field": "alt", "type": "quantitative", "axis": {"orient": "right", "values": [1500, 2000, 2500, 3000], "format": "d", "title": null, "domainWidth": 2, "tickWidth": 1.5, "tickSize": -4, "labelPadding": 6, "labelFontSize": 9.5}}
         }},
        {"data": {"name": "alt"}, "mark": {"type": "line", "color": "black", "strokeWidth": 1.3},
         "encoding": {
           "x": {"field": "km", "type": "quantitative", "scale": {"domain": [0, 16.6], "nice": false, "zero": false}, "axis": null},
           "y": {"field": "alt", "type": "quantitative", "axis": null},
           "detail": {"field": "line"}
         }},
        {"data": {"name": "altlab"}, "mark": {"type": "text", "fontSize": 9, "fontWeight": "bold", "font": "Liberation Mono", "baseline": "middle", "align": "center"},
         "encoding": {
           "x": {"field": "km", "type": "quantitative", "scale": {"domain": [0, 16.6], "nice": false, "zero": false}, "axis": null},
           "y": {"field": "alt", "type": "quantitative", "axis": null},
           "text": {"field": "line"}
         }},
        {"data": {"name": "lon"}, "mark": {"type": "point", "opacity": 0},
         "encoding": {
           "x": {"field": "lon", "type": "quantitative", "scale": {"domain": [-113.38, -113.18], "nice": false, "zero": false},
             "axis": {"orient": "bottom", "offset": 43, "values": [-113.38,-113.36,-113.34,-113.32,-113.3,-113.28,-113.26,-113.24,-113.22,-113.2,-113.18], "labelExpr": "'-' + format(-datum.value, '.2~f')", "title": "Longitude(°)", "titleFontSize": 9.5, "titleFontWeight": "normal", "titlePadding": -1, "domainWidth": 2, "tickWidth": 1.5, "tickSize": -4, "labelPadding": 4, "labelFontSize": 9.5}}
         }}
      ],
      "resolve": {"scale": {"x": "independent"}, "axis": {"x": "independent", "y": "independent"}}
    }
  ]
}
